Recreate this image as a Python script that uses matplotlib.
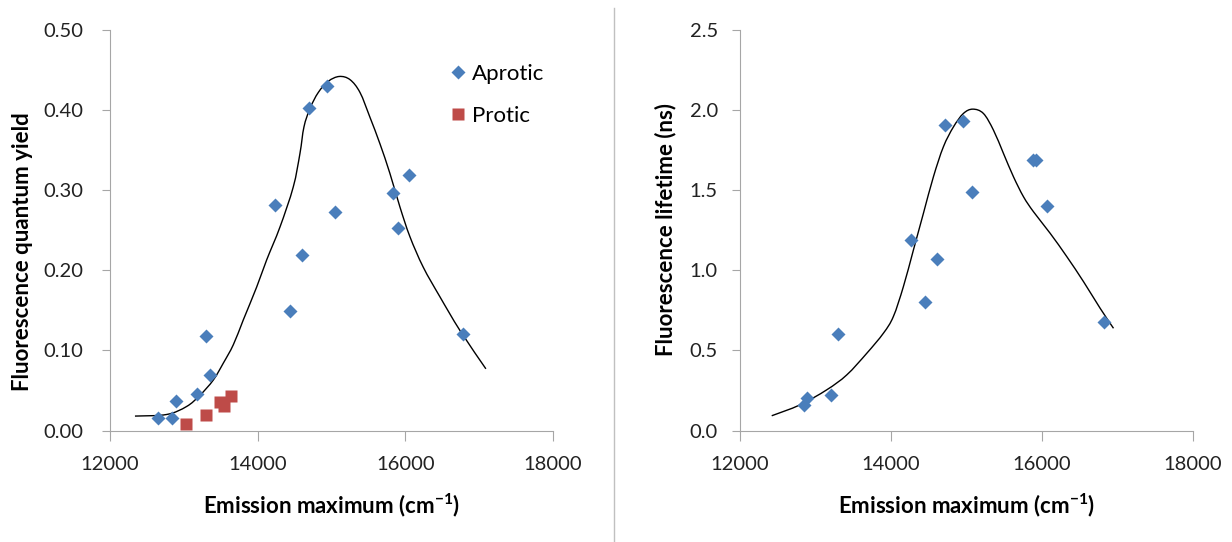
import matplotlib
matplotlib.use('Agg')
import matplotlib.pyplot as plt
from matplotlib.lines import Line2D
from matplotlib.path import Path
from matplotlib.patches import PathPatch

# quantum yield panel
apr_x = [12645, 12838, 12892, 13180, 13297, 13351, 14234, 14432, 14595, 14694,
         14942, 15045, 15838, 15896, 16045, 16780]
apr_qy = [0.015, 0.016, 0.037, 0.046, 0.118, 0.069, 0.281, 0.149, 0.219, 0.403,
          0.430, 0.273, 0.296, 0.253, 0.319, 0.121]
pro_x = [13036, 13297, 13495, 13540, 13644]
pro_qy = [0.008, 0.019, 0.036, 0.030, 0.043]
fit1_x = [12338, 12768, 13038, 13218, 13399, 13534, 13670, 13805, 13986, 14122,
          14302, 14482, 14573, 14627, 14708, 14821, 14957, 15106, 15251, 15386,
          15521, 15656, 15791, 15927, 16062, 16242, 16468, 16739, 17091]
fit1_y = [0.018, 0.020, 0.030, 0.044, 0.063, 0.084, 0.107, 0.138, 0.179, 0.213,
          0.254, 0.304, 0.346, 0.379, 0.402, 0.422, 0.436, 0.442, 0.438, 0.422,
          0.391, 0.358, 0.321, 0.279, 0.242, 0.204, 0.167, 0.125, 0.077]

# lifetime panel
lt_x = [12848, 12892, 13202, 13303, 14262, 14456, 14615, 14713, 14960, 15070,
        15877, 15920, 16062, 16820]
lt_y = [0.16, 0.20, 0.22, 0.60, 1.19, 0.80, 1.07, 1.91, 1.93, 1.49,
        1.69, 1.69, 1.40, 0.68]
fit2_x = [12420, 12795, 13149, 13414, 13679, 13899, 14031, 14164, 14297, 14429,
          14562, 14694, 14827, 14959, 15083, 15224, 15357, 15490, 15622, 15755,
          15888, 16108, 16329, 16550, 16770, 16947]
fit2_y = [0.092, 0.160, 0.254, 0.347, 0.482, 0.607, 0.711, 0.898, 1.127, 1.355,
          1.584, 1.771, 1.895, 1.979, 2.006, 1.979, 1.875, 1.729, 1.584, 1.459,
          1.365, 1.231, 1.085, 0.929, 0.763, 0.638]

blue = '#4a7ebb'
red = '#be4b48'
gray = '#a6a6a6'
plt.rcParams['font.family'] = ['Lato', 'DejaVu Sans']
plt.rcParams['mathtext.default'] = 'regular'

fig = plt.figure(figsize=(12.32, 5.42), dpi=100)
W, H = 1232.0, 542.0
ax1 = fig.add_axes([110 / W, 1 - 430.5 / H, 443 / W, 400.5 / H])
ax2 = fig.add_axes([740 / W, 1 - 430.5 / H, 453 / W, 400.5 / H])

def smooth_line(ax, xs, ys):
	# excel style smoothed line: catmull-rom segments as bezier curves
	pts = list(zip(xs, ys))
	verts = [pts[0]]
	codes = [Path.MOVETO]
	n = len(pts)
	for i in range(n - 1):
		p0 = pts[max(i - 1, 0)]
		p1 = pts[i]
		p2 = pts[i + 1]
		p3 = pts[min(i + 2, n - 1)]
		c1 = (p1[0] + (p2[0] - p0[0]) / 6.0, p1[1] + (p2[1] - p0[1]) / 6.0)
		c2 = (p2[0] - (p3[0] - p1[0]) / 6.0, p2[1] - (p3[1] - p1[1]) / 6.0)
		verts += [c1, c2, p2]
		codes += [Path.CURVE4] * 3
	ax.add_patch(PathPatch(Path(verts, codes), fill=False, edgecolor='black', lw=1))

def style(ax, ypad):
	for s in ['top', 'right']:
		ax.spines[s].set_visible(False)
	for s in ['left', 'bottom']:
		ax.spines[s].set_color(gray)
	ax.tick_params(axis='x', direction='out', color=gray, length=7, pad=11, labelsize=14.5, labelcolor='#222222')
	ax.tick_params(axis='y', direction='out', color=gray, length=5.5, pad=ypad, labelsize=14.5, labelcolor='#222222')
	ax.set_xlim(12000, 18000)
	ax.set_xticks([12000, 14000, 16000, 18000])
	ax.set_xlabel('Emission maximum (cm$^{-1}$)', fontsize=16, fontweight='bold')
	ax.xaxis.set_label_coords(0.5, -0.152)

smooth_line(ax1, fit1_x, fit1_y)
ax1.plot(apr_x, apr_qy, 'D', color=blue, ms=7, mec='none', label='Aprotic')
ax1.plot(pro_x, pro_qy, 's', color=red, ms=8.5, mec='none', label='Protic')
style(ax1, 14)
ax1.set_ylim(0, 0.5)
ax1.set_yticks([0, 0.1, 0.2, 0.3, 0.4, 0.5])
ax1.set_yticklabels(['%.2f' % v for v in [0, 0.1, 0.2, 0.3, 0.4, 0.5]])
ax1.set_ylabel('Fluorescence quantum yield', fontsize=16, fontweight='bold')
ax1.yaxis.set_label_coords(-0.174, 0.446)
ax1.legend(loc='upper left', bbox_to_anchor=(0.761, 0.915), frameon=False, fontsize=16,
           handletextpad=0.1, labelspacing=1.0, handlelength=1.0, borderpad=0,
           borderaxespad=0)

smooth_line(ax2, fit2_x, fit2_y)
ax2.plot(lt_x, lt_y, 'D', color=blue, ms=7, mec='none')
style(ax2, 10.5)
ax2.set_ylim(0, 2.5)
ax2.set_yticks([0, 0.5, 1.0, 1.5, 2.0, 2.5])
ax2.set_yticklabels(['%.1f' % v for v in [0, 0.5, 1.0, 1.5, 2.0, 2.5]])
ax2.set_ylabel('Fluorescence lifetime (ns)', fontsize=16, fontweight='bold')
ax2.yaxis.set_label_coords(-0.141, 0.501)

fig.add_artist(Line2D([614 / W, 614 / W], [0, 1 - 8 / H], color='#c0c0c0', lw=1))

fig.savefig('out.png', dpi=100)
